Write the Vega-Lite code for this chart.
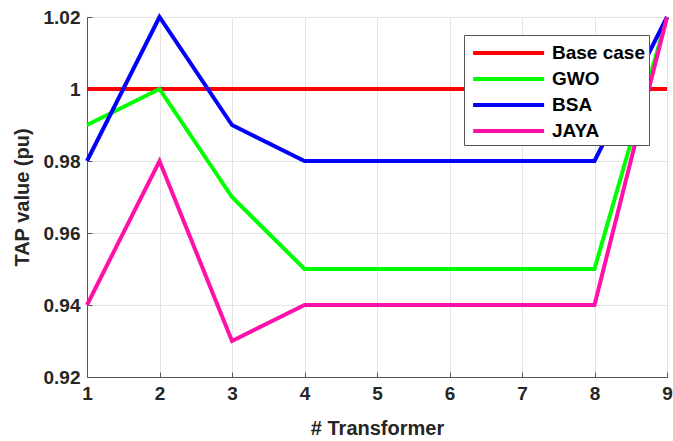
{
  "$schema": "https://vega.github.io/schema/vega-lite/v6.json",
  "width": 580,
  "height": 360,
  "autosize": {"type": "none"},
  "padding": {"left": 87, "top": 17, "right": 6, "bottom": 64},
  "background": "white",
  "config": {
    "view": {"stroke": "#555555", "strokeWidth": 1},
    "font": "Liberation Sans",
    "axis": {
      "labelFont": "Liberation Sans",
      "labelFontWeight": "bold",
      "labelFontSize": 19,
      "labelColor": "#262626",
      "titleFont": "Liberation Sans",
      "titleFontWeight": "bold",
      "titleFontSize": 20,
      "titleColor": "#262626",
      "domainColor": "#555555",
      "tickColor": "#555555",
      "gridColor": "#e3e3e3",
      "gridWidth": 1,
      "labelFlush": false
    }
  },
  "data": {
    "values": [
      {"x": 1, "series": "Base case", "value": 1.0},
      {"x": 2, "series": "Base case", "value": 1.0},
      {"x": 3, "series": "Base case", "value": 1.0},
      {"x": 4, "series": "Base case", "value": 1.0},
      {"x": 5, "series": "Base case", "value": 1.0},
      {"x": 6, "series": "Base case", "value": 1.0},
      {"x": 7, "series": "Base case", "value": 1.0},
      {"x": 8, "series": "Base case", "value": 1.0},
      {"x": 9, "series": "Base case", "value": 1.0},
      {"x": 1, "series": "GWO", "value": 0.99},
      {"x": 2, "series": "GWO", "value": 1.0},
      {"x": 3, "series": "GWO", "value": 0.97},
      {"x": 4, "series": "GWO", "value": 0.95},
      {"x": 5, "series": "GWO", "value": 0.95},
      {"x": 6, "series": "GWO", "value": 0.95},
      {"x": 7, "series": "GWO", "value": 0.95},
      {"x": 8, "series": "GWO", "value": 0.95},
      {"x": 9, "series": "GWO", "value": 1.02},
      {"x": 1, "series": "BSA", "value": 0.98},
      {"x": 2, "series": "BSA", "value": 1.02},
      {"x": 3, "series": "BSA", "value": 0.99},
      {"x": 4, "series": "BSA", "value": 0.98},
      {"x": 5, "series": "BSA", "value": 0.98},
      {"x": 6, "series": "BSA", "value": 0.98},
      {"x": 7, "series": "BSA", "value": 0.98},
      {"x": 8, "series": "BSA", "value": 0.98},
      {"x": 9, "series": "BSA", "value": 1.02},
      {"x": 1, "series": "JAYA", "value": 0.94},
      {"x": 2, "series": "JAYA", "value": 0.98},
      {"x": 3, "series": "JAYA", "value": 0.93},
      {"x": 4, "series": "JAYA", "value": 0.94},
      {"x": 5, "series": "JAYA", "value": 0.94},
      {"x": 6, "series": "JAYA", "value": 0.94},
      {"x": 7, "series": "JAYA", "value": 0.94},
      {"x": 8, "series": "JAYA", "value": 0.94},
      {"x": 9, "series": "JAYA", "value": 1.02}
    ]
  },
  "mark": {"type": "line", "strokeWidth": 4, "clip": false},
  "encoding": {
    "x": {
      "field": "x",
      "type": "quantitative",
      "scale": {"domain": [1, 9], "nice": false, "zero": false},
      "axis": {
        "title": "# Transformer",
        "values": [1, 2, 3, 4, 5, 6, 7, 8, 9],
        "format": "d",
        "tickSize": -5,
        "labelPadding": 12,
        "titlePadding": 15,
        "grid": true
      }
    },
    "y": {
      "field": "value",
      "type": "quantitative",
      "scale": {"domain": [0.92, 1.02], "nice": false, "zero": false},
      "axis": {
        "title": "TAP value (pu)",
        "values": [0.92, 0.94, 0.96, 0.98, 1.0, 1.02],
        "format": ".2~f",
        "tickSize": -5,
        "labelPadding": 12,
        "titlePadding": 11,
        "grid": true
      }
    },
    "color": {
      "field": "series",
      "type": "nominal",
      "sort": ["Base case", "GWO", "BSA", "JAYA"],
      "scale": {
        "domain": ["Base case", "GWO", "BSA", "JAYA"],
        "range": ["#ff0000", "#00ff00", "#0000ff", "#ff10a8"]
      },
      "legend": {
        "title": null,
        "orient": "none",
        "legendX": 377,
        "legendY": 18,
        "direction": "vertical",
        "symbolType": "M-0.75,0H5.25",
        "symbolSize": 560,
        "symbolStrokeWidth": 4,
        "labelFont": "Liberation Sans",
        "labelFontWeight": "bold",
        "labelFontSize": 19,
        "labelColor": "#000000",
        "labelOffset": 56,
        "strokeColor": "#555555",
        "fillColor": "white",
        "padding": 4,
        "rowPadding": 2
      }
    },
    "order": {"field": "series"}
  }
}
